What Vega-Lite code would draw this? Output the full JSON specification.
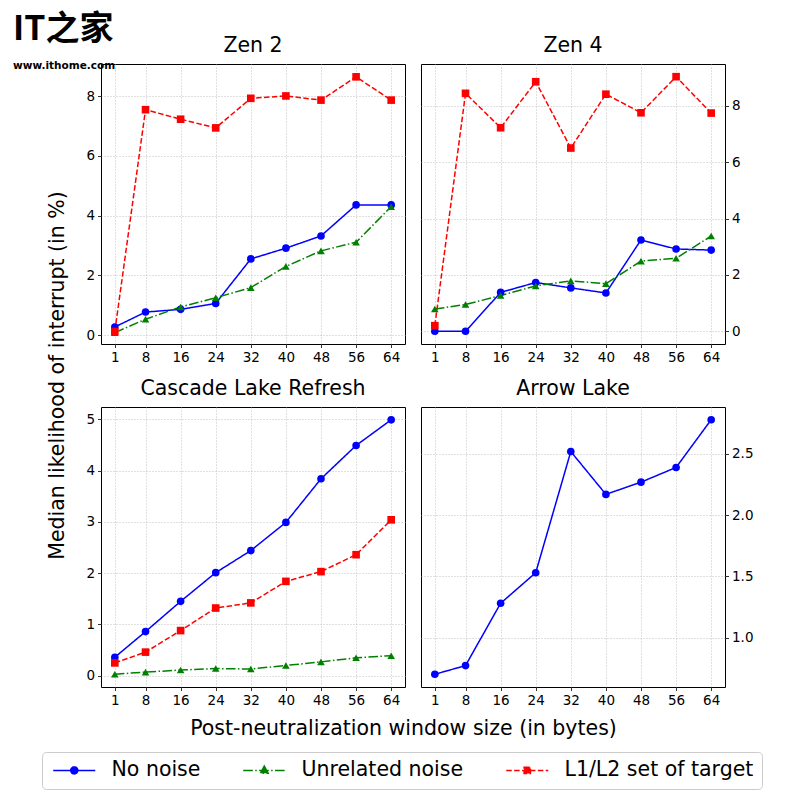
{
  "$schema": "https://vega.github.io/schema/vega-lite/v6.json",
  "background": "white",
  "padding": {"left": 13, "top": 12, "right": 10, "bottom": 10},
  "title": {
    "text": "IT之家", "subtitle": "www.ithome.com",
    "anchor": "start", "frame": "group", "dx": -88, "offset": -36,
    "font": "Noto Sans CJK SC", "fontSize": 34, "fontWeight": "bold", "color": "#000000",
    "subtitleFont": "DejaVu Sans", "subtitleFontSize": 10.5, "subtitleFontWeight": "bold", "subtitleColor": "#000000", "subtitlePadding": 14
  },
  "data": {"values": [
    {"chip": "Zen 2", "size": 1, "series": "No noise", "value": 0.27},
    {"chip": "Zen 2", "size": 8, "series": "No noise", "value": 0.77},
    {"chip": "Zen 2", "size": 16, "series": "No noise", "value": 0.86},
    {"chip": "Zen 2", "size": 24, "series": "No noise", "value": 1.06},
    {"chip": "Zen 2", "size": 32, "series": "No noise", "value": 2.55},
    {"chip": "Zen 2", "size": 40, "series": "No noise", "value": 2.91},
    {"chip": "Zen 2", "size": 48, "series": "No noise", "value": 3.32},
    {"chip": "Zen 2", "size": 56, "series": "No noise", "value": 4.36},
    {"chip": "Zen 2", "size": 64, "series": "No noise", "value": 4.36},
    {"chip": "Zen 2", "size": 1, "series": "Unrelated noise", "value": 0.08},
    {"chip": "Zen 2", "size": 8, "series": "Unrelated noise", "value": 0.53},
    {"chip": "Zen 2", "size": 16, "series": "Unrelated noise", "value": 0.94},
    {"chip": "Zen 2", "size": 24, "series": "Unrelated noise", "value": 1.25},
    {"chip": "Zen 2", "size": 32, "series": "Unrelated noise", "value": 1.59},
    {"chip": "Zen 2", "size": 40, "series": "Unrelated noise", "value": 2.3},
    {"chip": "Zen 2", "size": 48, "series": "Unrelated noise", "value": 2.82},
    {"chip": "Zen 2", "size": 56, "series": "Unrelated noise", "value": 3.11},
    {"chip": "Zen 2", "size": 64, "series": "Unrelated noise", "value": 4.3},
    {"chip": "Zen 2", "size": 1, "series": "L1/L2 set of target", "value": 0.12},
    {"chip": "Zen 2", "size": 8, "series": "L1/L2 set of target", "value": 7.55},
    {"chip": "Zen 2", "size": 16, "series": "L1/L2 set of target", "value": 7.23},
    {"chip": "Zen 2", "size": 24, "series": "L1/L2 set of target", "value": 6.94},
    {"chip": "Zen 2", "size": 32, "series": "L1/L2 set of target", "value": 7.93},
    {"chip": "Zen 2", "size": 40, "series": "L1/L2 set of target", "value": 8.01},
    {"chip": "Zen 2", "size": 48, "series": "L1/L2 set of target", "value": 7.87},
    {"chip": "Zen 2", "size": 56, "series": "L1/L2 set of target", "value": 8.65},
    {"chip": "Zen 2", "size": 64, "series": "L1/L2 set of target", "value": 7.87},
    {"chip": "Zen 4", "size": 1, "series": "No noise", "value": 0.0},
    {"chip": "Zen 4", "size": 8, "series": "No noise", "value": 0.0},
    {"chip": "Zen 4", "size": 16, "series": "No noise", "value": 1.38},
    {"chip": "Zen 4", "size": 24, "series": "No noise", "value": 1.73},
    {"chip": "Zen 4", "size": 32, "series": "No noise", "value": 1.54},
    {"chip": "Zen 4", "size": 40, "series": "No noise", "value": 1.36},
    {"chip": "Zen 4", "size": 48, "series": "No noise", "value": 3.24},
    {"chip": "Zen 4", "size": 56, "series": "No noise", "value": 2.92},
    {"chip": "Zen 4", "size": 64, "series": "No noise", "value": 2.88},
    {"chip": "Zen 4", "size": 1, "series": "Unrelated noise", "value": 0.79},
    {"chip": "Zen 4", "size": 8, "series": "Unrelated noise", "value": 0.95},
    {"chip": "Zen 4", "size": 16, "series": "Unrelated noise", "value": 1.27},
    {"chip": "Zen 4", "size": 24, "series": "Unrelated noise", "value": 1.61},
    {"chip": "Zen 4", "size": 32, "series": "Unrelated noise", "value": 1.79},
    {"chip": "Zen 4", "size": 40, "series": "Unrelated noise", "value": 1.69},
    {"chip": "Zen 4", "size": 48, "series": "Unrelated noise", "value": 2.49},
    {"chip": "Zen 4", "size": 56, "series": "Unrelated noise", "value": 2.59},
    {"chip": "Zen 4", "size": 64, "series": "Unrelated noise", "value": 3.38},
    {"chip": "Zen 4", "size": 1, "series": "L1/L2 set of target", "value": 0.2},
    {"chip": "Zen 4", "size": 8, "series": "L1/L2 set of target", "value": 8.44},
    {"chip": "Zen 4", "size": 16, "series": "L1/L2 set of target", "value": 7.22},
    {"chip": "Zen 4", "size": 24, "series": "L1/L2 set of target", "value": 8.85},
    {"chip": "Zen 4", "size": 32, "series": "L1/L2 set of target", "value": 6.5},
    {"chip": "Zen 4", "size": 40, "series": "L1/L2 set of target", "value": 8.41},
    {"chip": "Zen 4", "size": 48, "series": "L1/L2 set of target", "value": 7.75},
    {"chip": "Zen 4", "size": 56, "series": "L1/L2 set of target", "value": 9.03},
    {"chip": "Zen 4", "size": 64, "series": "L1/L2 set of target", "value": 7.74},
    {"chip": "Cascade Lake Refresh", "size": 1, "series": "No noise", "value": 0.36},
    {"chip": "Cascade Lake Refresh", "size": 8, "series": "No noise", "value": 0.86},
    {"chip": "Cascade Lake Refresh", "size": 16, "series": "No noise", "value": 1.45},
    {"chip": "Cascade Lake Refresh", "size": 24, "series": "No noise", "value": 2.01},
    {"chip": "Cascade Lake Refresh", "size": 32, "series": "No noise", "value": 2.44},
    {"chip": "Cascade Lake Refresh", "size": 40, "series": "No noise", "value": 2.99},
    {"chip": "Cascade Lake Refresh", "size": 48, "series": "No noise", "value": 3.84},
    {"chip": "Cascade Lake Refresh", "size": 56, "series": "No noise", "value": 4.49},
    {"chip": "Cascade Lake Refresh", "size": 64, "series": "No noise", "value": 4.99},
    {"chip": "Cascade Lake Refresh", "size": 1, "series": "Unrelated noise", "value": 0.03},
    {"chip": "Cascade Lake Refresh", "size": 8, "series": "Unrelated noise", "value": 0.07},
    {"chip": "Cascade Lake Refresh", "size": 16, "series": "Unrelated noise", "value": 0.11},
    {"chip": "Cascade Lake Refresh", "size": 24, "series": "Unrelated noise", "value": 0.14},
    {"chip": "Cascade Lake Refresh", "size": 32, "series": "Unrelated noise", "value": 0.13},
    {"chip": "Cascade Lake Refresh", "size": 40, "series": "Unrelated noise", "value": 0.2},
    {"chip": "Cascade Lake Refresh", "size": 48, "series": "Unrelated noise", "value": 0.27},
    {"chip": "Cascade Lake Refresh", "size": 56, "series": "Unrelated noise", "value": 0.35},
    {"chip": "Cascade Lake Refresh", "size": 64, "series": "Unrelated noise", "value": 0.39},
    {"chip": "Cascade Lake Refresh", "size": 1, "series": "L1/L2 set of target", "value": 0.25},
    {"chip": "Cascade Lake Refresh", "size": 8, "series": "L1/L2 set of target", "value": 0.46},
    {"chip": "Cascade Lake Refresh", "size": 16, "series": "L1/L2 set of target", "value": 0.88},
    {"chip": "Cascade Lake Refresh", "size": 24, "series": "L1/L2 set of target", "value": 1.32},
    {"chip": "Cascade Lake Refresh", "size": 32, "series": "L1/L2 set of target", "value": 1.42},
    {"chip": "Cascade Lake Refresh", "size": 40, "series": "L1/L2 set of target", "value": 1.84},
    {"chip": "Cascade Lake Refresh", "size": 48, "series": "L1/L2 set of target", "value": 2.03},
    {"chip": "Cascade Lake Refresh", "size": 56, "series": "L1/L2 set of target", "value": 2.36},
    {"chip": "Cascade Lake Refresh", "size": 64, "series": "L1/L2 set of target", "value": 3.04},
    {"chip": "Arrow Lake", "size": 1, "series": "No noise", "value": 0.7},
    {"chip": "Arrow Lake", "size": 8, "series": "No noise", "value": 0.771},
    {"chip": "Arrow Lake", "size": 16, "series": "No noise", "value": 1.28},
    {"chip": "Arrow Lake", "size": 24, "series": "No noise", "value": 1.53},
    {"chip": "Arrow Lake", "size": 32, "series": "No noise", "value": 2.52},
    {"chip": "Arrow Lake", "size": 40, "series": "No noise", "value": 2.17},
    {"chip": "Arrow Lake", "size": 48, "series": "No noise", "value": 2.27},
    {"chip": "Arrow Lake", "size": 56, "series": "No noise", "value": 2.39},
    {"chip": "Arrow Lake", "size": 64, "series": "No noise", "value": 2.78}
  ]},
  "columns": 2,
  "spacing": {"row": 63, "column": 16},
  "bounds": "flush",
  "concat": [
    {
      "title": "Zen 2",
      "width": 304, "height": 280,
      "transform": [{"filter": "datum.chip === 'Zen 2'"}],
      "encoding": {
        "x": {"field": "size", "type": "quantitative", "scale": {"domain": [-2.15, 67.15], "nice": false, "zero": false},
              "axis": {"values": [1, 8, 16, 24, 32, 40, 48, 56, 64], "title": null}},
        "y": {"field": "value", "type": "quantitative", "scale": {"domain": [-0.3, 9.08], "nice": false, "zero": false},
              "axis": {"values": [0, 2, 4, 6, 8], "title": "Median likelihood of interrupt (in %)", "titleY": 311}},
        "color": {"field": "series", "type": "nominal",
                  "scale": {"domain": ["No noise", "Unrelated noise", "L1/L2 set of target"], "range": ["#0000ff", "#008000", "#ff0000"]},
                  "legend": {"encode": {"symbols": {"update": {
                    "shape": {"signal": "datum.value === 'No noise' ? 'M-3,0L3,0M0.5,0A0.5,0.5,0,1,1,-0.5,0A0.5,0.5,0,1,1,0.5,0Z' : datum.value === 'Unrelated noise' ? 'M-3,0L3,0M0,-0.6L0.55,0.4L-0.55,0.4Z' : 'M-3,0L3,0M-0.45,-0.45L0.45,-0.45L0.45,0.45L-0.45,0.45Z'"},
                    "strokeDash": {"signal": "datum.value === 'No noise' ? [1,0] : datum.value === 'Unrelated noise' ? [9.6,2.4,1.5,2.4] : [5.5,2.4]"},
                    "fill": {"scale": "color", "field": "value"},
                    "stroke": {"scale": "color", "field": "value"},
                    "opacity": {"value": 1}
                  }}}}}
      },
      "layer": [
        {"mark": {"type": "line", "strokeWidth": 1.5}, "encoding": {"strokeDash": {"field": "series", "type": "nominal", "legend": null,
          "scale": {"domain": ["No noise", "Unrelated noise", "L1/L2 set of target"], "range": [[1, 0], [9.6, 2.4, 1.5, 2.4], [5.5, 2.4]]}}}},
        {"transform": [{"filter": "datum.series === 'No noise'"}], "mark": {"type": "point", "shape": "circle", "filled": true, "opacity": 1, "size": 58}},
        {"transform": [{"filter": "datum.series === 'Unrelated noise'"}], "mark": {"type": "point", "shape": "triangle-up", "filled": true, "opacity": 1, "size": 58}},
        {"transform": [{"filter": "datum.series === 'L1/L2 set of target'"}], "mark": {"type": "point", "shape": "square", "filled": true, "opacity": 1, "size": 58}}
      ]
    },
    {
      "title": "Zen 4",
      "width": 304, "height": 280,
      "transform": [{"filter": "datum.chip === 'Zen 4'"}],
      "encoding": {
        "x": {"field": "size", "type": "quantitative", "scale": {"domain": [-2.15, 67.15], "nice": false, "zero": false},
              "axis": {"values": [1, 8, 16, 24, 32, 40, 48, 56, 64], "title": null}},
        "y": {"field": "value", "type": "quantitative", "scale": {"domain": [-0.45, 9.48], "nice": false, "zero": false},
              "axis": {"values": [0, 2, 4, 6, 8], "title": null, "orient": "right"}},
        "color": {"field": "series", "type": "nominal"}
      },
      "layer": [
        {"mark": {"type": "line", "strokeWidth": 1.5}, "encoding": {"strokeDash": {"field": "series", "type": "nominal", "legend": null}}},
        {"transform": [{"filter": "datum.series === 'No noise'"}], "mark": {"type": "point", "shape": "circle", "filled": true, "opacity": 1, "size": 58}},
        {"transform": [{"filter": "datum.series === 'Unrelated noise'"}], "mark": {"type": "point", "shape": "triangle-up", "filled": true, "opacity": 1, "size": 58}},
        {"transform": [{"filter": "datum.series === 'L1/L2 set of target'"}], "mark": {"type": "point", "shape": "square", "filled": true, "opacity": 1, "size": 58}}
      ]
    },
    {
      "title": "Cascade Lake Refresh",
      "width": 304, "height": 280,
      "transform": [{"filter": "datum.chip === 'Cascade Lake Refresh'"}],
      "encoding": {
        "x": {"field": "size", "type": "quantitative", "scale": {"domain": [-2.15, 67.15], "nice": false, "zero": false},
              "axis": {"values": [1, 8, 16, 24, 32, 40, 48, 56, 64], "title": "Post-neutralization window size (in bytes)", "titleX": 302}},
        "y": {"field": "value", "type": "quantitative", "scale": {"domain": [-0.22, 5.24], "nice": false, "zero": false},
              "axis": {"values": [0, 1, 2, 3, 4, 5], "title": null}},
        "color": {"field": "series", "type": "nominal"}
      },
      "layer": [
        {"mark": {"type": "line", "strokeWidth": 1.5}, "encoding": {"strokeDash": {"field": "series", "type": "nominal", "legend": null}}},
        {"transform": [{"filter": "datum.series === 'No noise'"}], "mark": {"type": "point", "shape": "circle", "filled": true, "opacity": 1, "size": 58}},
        {"transform": [{"filter": "datum.series === 'Unrelated noise'"}], "mark": {"type": "point", "shape": "triangle-up", "filled": true, "opacity": 1, "size": 58}},
        {"transform": [{"filter": "datum.series === 'L1/L2 set of target'"}], "mark": {"type": "point", "shape": "square", "filled": true, "opacity": 1, "size": 58}}
      ]
    },
    {
      "title": "Arrow Lake",
      "width": 304, "height": 280,
      "transform": [{"filter": "datum.chip === 'Arrow Lake'"}],
      "encoding": {
        "x": {"field": "size", "type": "quantitative", "scale": {"domain": [-2.15, 67.15], "nice": false, "zero": false},
              "axis": {"values": [1, 8, 16, 24, 32, 40, 48, 56, 64], "title": null}},
        "y": {"field": "value", "type": "quantitative", "scale": {"domain": [0.596, 2.884], "nice": false, "zero": false},
              "axis": {"values": [1.0, 1.5, 2.0, 2.5], "format": ".1f", "title": null, "orient": "right"}},
        "color": {"field": "series", "type": "nominal"}
      },
      "layer": [
        {"mark": {"type": "line", "strokeWidth": 1.5}, "encoding": {"strokeDash": {"field": "series", "type": "nominal", "legend": null}}},
        {"transform": [{"filter": "datum.series === 'No noise'"}], "mark": {"type": "point", "shape": "circle", "filled": true, "opacity": 1, "size": 58}}
      ]
    }
  ],
  "config": {
    "font": "DejaVu Sans",
    "view": {"stroke": "#000000", "strokeWidth": 1},
    "axis": {
      "grid": true, "gridColor": "#b0b0b0", "gridDash": [1, 2], "gridWidth": 0.8,
      "domain": false, "tickColor": "#000000", "tickSize": 3.5, "tickWidth": 0.8,
      "labelFontSize": 13.5, "labelColor": "#000000", "labelPadding": 3,
      "titleFontSize": 20.5, "titleFontWeight": "normal", "titleColor": "#000000"
    },
    "axisX": {"titlePadding": 11},
    "axisY": {"titlePadding": 18},
    "title": {"fontSize": 20.5, "fontWeight": "normal", "offset": 8},
    "legend": {
      "orient": "none", "legendX": -59, "legendY": 688,
      "direction": "horizontal", "title": null,
      "labelFontSize": 20.5, "labelColor": "#000000", "labelOffset": 27, "labelLimit": 300,
      "symbolSize": 196, "symbolOffset": 14, "symbolStrokeWidth": 1.5, "columnPadding": 39,
      "strokeColor": "#cccccc", "fillColor": "#ffffff", "cornerRadius": 4, "padding": 8
    }
  },
  "resolve": {"scale": {"y": "independent", "x": "independent"}}
}
